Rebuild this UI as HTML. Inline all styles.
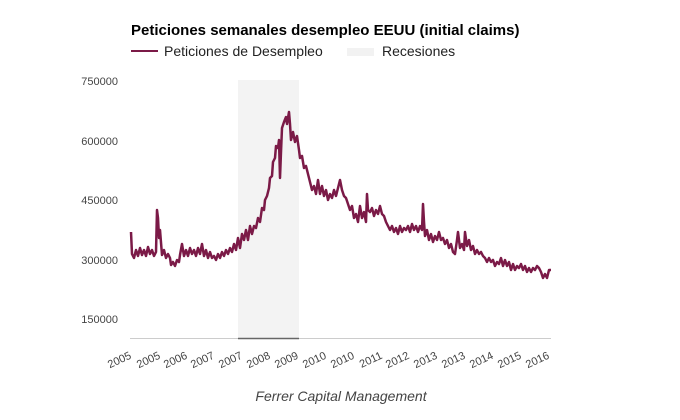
<!DOCTYPE html>
<html><head><meta charset="utf-8"><style>
html,body{margin:0;padding:0;background:#fff;}
svg{display:block;font-family:"Liberation Sans",Arial,sans-serif;}
</style></head><body>
<svg width="680" height="420" viewBox="0 0 680 420" xmlns="http://www.w3.org/2000/svg">
<rect width="680" height="420" fill="#fff"/>
<text x="131" y="35" font-size="15" font-weight="bold" fill="#000">Peticiones semanales desempleo EEUU (initial claims)</text>
<line x1="131" y1="51" x2="158" y2="51" stroke="#7b1a47" stroke-width="2"/>
<text x="164" y="56" font-size="14" fill="#222">Peticiones de Desempleo</text>
<rect x="347" y="48" width="27" height="8" fill="#f2f2f2"/>
<text x="382" y="56" font-size="14" fill="#222">Recesiones</text>
<rect x="238" y="80" width="61" height="258" fill="#f3f3f3"/>
<g font-size="11" fill="#444" text-anchor="end">
<text x="118" y="85">750000</text>
<text x="118" y="145">600000</text>
<text x="118" y="204">450000</text>
<text x="118" y="264">300000</text>
<text x="118" y="323">150000</text>
</g>
<line x1="130" y1="338.5" x2="551" y2="338.5" stroke="#ccc" stroke-width="1"/>
<line x1="238" y1="338.5" x2="299" y2="338.5" stroke="#666" stroke-width="1.5"/>
<polyline fill="none" stroke="#7b1a47" stroke-width="2.5" stroke-linejoin="round" points="
131,232 132,254 134,258 136,250 138,256 140,248 142,255 144,250 146,256 148,247 150,254 152,250 154,256 156,252 157,210 158,218 159,238 160,230 162,255 164,250 166,258 168,254 170,258 171,265 173,262 175,266 177,260 179,262 180,255 182,244 184,256 186,250 188,256 190,248 192,254 194,250 196,256 198,248 200,254 202,244 204,256 206,250 208,258 210,252 212,258 214,256 216,260 218,254 220,258 222,252 224,256 226,250 228,254 230,248 232,252 234,244 236,250 238,238 240,248 242,234 244,240 246,230 248,240 250,226 252,234 254,226 256,228 258,218 260,222 262,208 264,210 265,200 267,196 269,188 270,178 272,176 273,162 275,158 276,146 278,148 279,140 280,178 281,152 282,128 284,122 286,117 287,124 289,112 290,124 291,140 293,132 295,142 297,136 299,150 300,158 302,156 304,168 306,166 308,174 310,182 312,190 314,186 316,194 318,180 320,194 322,186 324,196 326,190 328,200 330,194 332,198 334,190 336,196 338,188 340,180 342,190 344,196 346,198 348,204 350,210 352,206 354,218 356,214 358,222 360,206 362,218 364,212 366,222 367,194 368,210 370,212 372,208 374,216 376,210 378,214 380,206 382,214 384,216 386,222 388,226 390,230 392,226 394,232 396,228 398,234 400,226 402,232 404,228 406,230 408,226 410,232 412,224 414,230 416,226 418,232 420,226 422,230 423,204 424,222 425,236 427,230 429,240 431,234 433,242 435,236 437,240 439,232 441,240 443,238 445,244 447,240 449,248 451,244 453,252 455,254 457,240 458,232 460,248 462,244 464,250 465,232 467,246 469,240 471,250 473,246 475,254 477,250 479,254 481,252 483,256 485,258 487,262 489,258 491,262 493,260 495,266 497,262 499,264 501,258 503,266 505,260 507,266 509,262 511,270 513,264 515,270 517,266 519,268 521,264 523,270 525,266 527,272 529,268 531,272 533,268 535,270 537,266 539,268 541,272 543,278 545,274 547,278 549,270 551,270"/>
<g font-size="11" fill="#444" text-anchor="end">
<text transform="translate(132,358) rotate(-25)">2005</text>
<text transform="translate(161,358) rotate(-25)">2005</text>
<text transform="translate(188,358) rotate(-25)">2006</text>
<text transform="translate(215,358) rotate(-25)">2007</text>
<text transform="translate(243,358) rotate(-25)">2007</text>
<text transform="translate(271,358) rotate(-25)">2008</text>
<text transform="translate(299,358) rotate(-25)">2009</text>
<text transform="translate(327,358) rotate(-25)">2010</text>
<text transform="translate(355,358) rotate(-25)">2010</text>
<text transform="translate(383,358) rotate(-25)">2011</text>
<text transform="translate(410,358) rotate(-25)">2012</text>
<text transform="translate(438,358) rotate(-25)">2013</text>
<text transform="translate(466,358) rotate(-25)">2013</text>
<text transform="translate(494,358) rotate(-25)">2014</text>
<text transform="translate(522,358) rotate(-25)">2015</text>
<text transform="translate(550,358) rotate(-25)">2016</text>
</g>
<text x="341" y="401" font-size="14" font-style="italic" fill="#444" text-anchor="middle">Ferrer Capital Management</text>
</svg>
</body></html>
